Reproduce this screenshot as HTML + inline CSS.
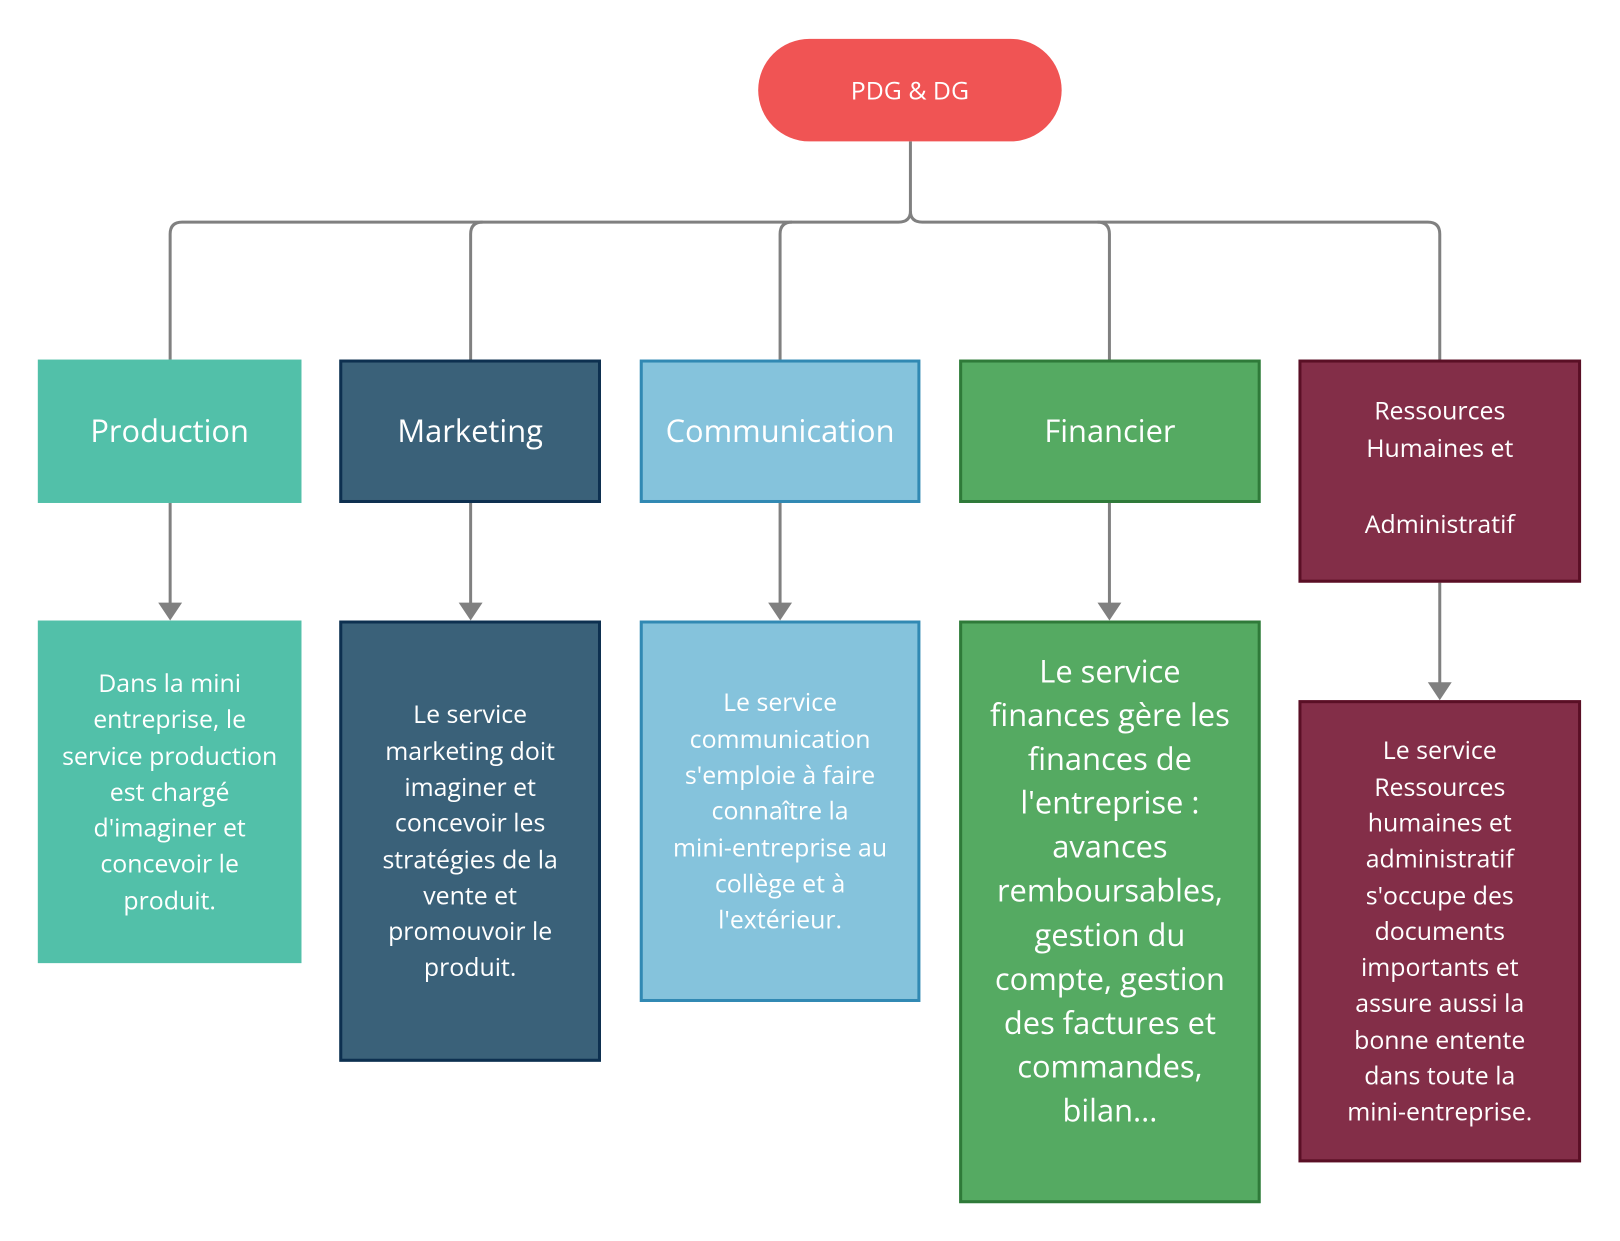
<!DOCTYPE html>
<html><head><meta charset="utf-8"><style>
body{margin:0;width:1620px;height:1241px;background:#fff;position:relative;overflow:hidden;font-family:"Open Sans","Liberation Sans","DejaVu Sans",sans-serif;color:#fff}
#w{position:absolute;left:0;top:0;width:1620px;height:1241px;transform:scale(0.995,0.996);transform-origin:0 0}
.b{position:absolute;box-sizing:border-box;display:flex;align-items:center;justify-content:center;text-align:center}
.t{font-size:31px}
.d{font-size:25px;line-height:36.3px}
svg{position:absolute;left:0;top:0}
</style></head><body><div id="w">
<svg width="1620" height="1241">
<g fill="none" stroke="#808080" stroke-width="3">
<path d="M915 142 V212 Q915 223 903 223 H183 Q171 223 171 235 V361"/>
<path d="M915 212 Q915 223 927 223 H1435 Q1447 223 1447 235 V361"/>
<path d="M473 361 V235 Q473 223 485 223"/>
<path d="M784 361 V235 Q784 223 796 223"/>
<path d="M1115 361 V235 Q1115 223 1103 223"/>
<path d="M171 505 V610"/><path d="M473 505 V610"/><path d="M784 505 V610"/><path d="M1115 505 V610"/><path d="M1447 585 V690"/>
</g>
<g fill="#808080">
<path d="M159 605 H183 L171 623 Z"/><path d="M461 605 H485 L473 623 Z"/><path d="M772 605 H796 L784 623 Z"/><path d="M1103 605 H1127 L1115 623 Z"/><path d="M1435 685 H1459 L1447 703 Z"/>
</g>
</svg>
<div class="b" style="left:762px;top:39px;width:305px;height:103px;background:#f05454;border-radius:52px;font-size:25px">PDG &amp; DG</div>

<div class="b t" style="left:38px;top:361px;width:265px;height:144px;background:#52c0a9">Production</div>
<div class="b t" style="left:341px;top:361px;width:263px;height:144px;background:#3a6179;border:3px solid #0d3050">Marketing</div>
<div class="b t" style="left:643px;top:361px;width:282px;height:144px;background:#85c3dc;border:3px solid #3189b3">Communication</div>
<div class="b t" style="left:964px;top:361px;width:303px;height:144px;background:#55aa62;border:3px solid #2f7a39">Financier</div>
<div class="b" style="left:1305px;top:361px;width:284px;height:224px;background:#832e48;border:3px solid #5a0f25;font-size:25px;line-height:38px;padding-bottom:8px">Ressources<br>Humaines et<br><br>Administratif</div>

<div class="b d" style="left:38px;top:623px;width:265px;height:344px;background:#52c0a9">Dans la mini<br>entreprise, le<br>service production<br>est chargé<br>d'imaginer et<br>concevoir le<br>produit.</div>
<div class="b d" style="left:341px;top:623px;width:263px;height:443px;background:#3a6179;border:3px solid #0d3050">Le service<br>marketing doit<br>imaginer et<br>concevoir les<br>stratégies de la<br>vente et<br>promouvoir le<br>produit.</div>
<div class="b d" style="left:643px;top:623px;width:282px;height:383px;background:#85c3dc;border:3px solid #3189b3">Le service<br>communication<br>s'emploie à faire<br>connaître la<br>mini-entreprise au<br>collège et à<br>l'extérieur.</div>
<div class="b" style="left:964px;top:623px;width:303px;height:585px;background:#55aa62;border:3px solid #2f7a39;font-size:31px;line-height:44.1px;align-items:flex-start;padding-top:26px">Le service<br>finances gère les<br>finances de<br>l'entreprise :<br>avances<br>remboursables,<br>gestion du<br>compte, gestion<br>des factures et<br>commandes,<br>bilan...</div>
<div class="b d" style="left:1305px;top:703px;width:284px;height:464px;background:#832e48;border:3px solid #5a0f25">Le service<br>Ressources<br>humaines et<br>administratif<br>s'occupe des<br>documents<br>importants et<br>assure aussi la<br>bonne entente<br>dans toute la<br>mini-entreprise.</div>
</div></body></html>
